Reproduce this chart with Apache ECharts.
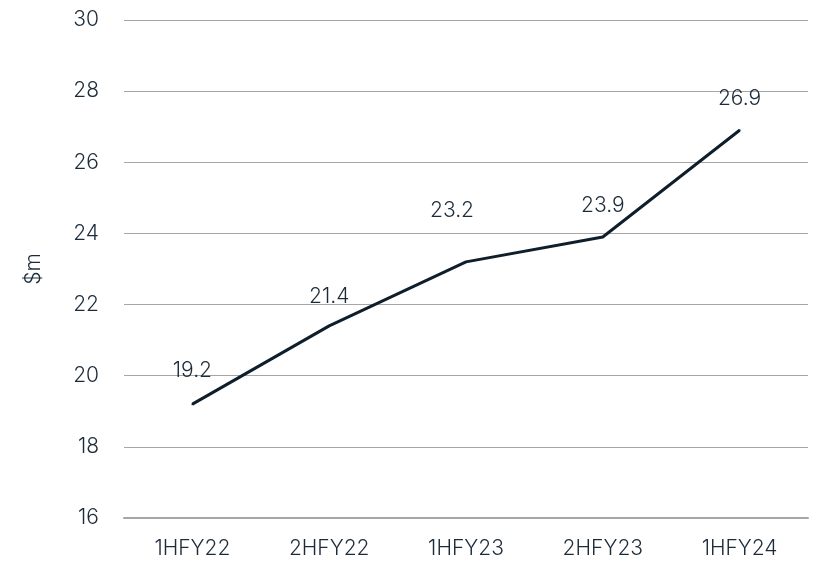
<!DOCTYPE html>
<html>
<head>
<meta charset="utf-8">
<script src="https://cdn.jsdelivr.net/npm/echarts@6/dist/echarts.min.js"></script>
<style>
  html, body { margin: 0; padding: 0; background: #fff; }
  #chart { width: 814px; height: 561px; }
</style>
</head>
<body>
<div id="chart"></div>
<script>
// data
const periods = ['1HFY22', '2HFY22', '1HFY23', '2HFY23', '1HFY24']
const revenue = [19.2, 21.4, 23.2, 23.9, 26.9]

const textColor = '#1c2b3a'
const font = 'Inter'
const fs = 21

const chart = echarts.init(document.getElementById('chart'))

// label offsets picked to sit like the original
const labelOffsets = [[0, -2], [0, 2], [-14, -20], [0, 0], [0, 0]]

chart.setOption({
  animation: false,
  grid: { left: 124, right: 6, top: 20, bottom: 43 },
  xAxis: {
    type: 'category',
    data: periods,
    boundaryGap: true,
    axisLine: { show: true, lineStyle: { color: '#a6a6a6', width: 2 } },
    axisTick: { show: false },
    axisLabel: { color: textColor, fontFamily: font, fontWeight: 300, fontSize: fs, margin: 20 }
  },
  yAxis: {
    type: 'value',
    min: 16,
    max: 30,
    interval: 2,
    name: '$m',
    nameLocation: 'middle',
    nameGap: 80,
    nameTextStyle: { color: textColor, fontFamily: font, fontWeight: 300, fontSize: fs },
    axisLine: { show: false },
    axisTick: { show: false },
    axisLabel: { color: textColor, fontFamily: font, fontWeight: 300, fontSize: fs, margin: 25 },
    splitLine: { lineStyle: { color: '#a6a6a6', width: 1 } }
  },
  series: [
    {
      type: 'line',
      data: revenue.map((v, i) => ({
        value: v,
        label: { offset: labelOffsets[i] }
      })),
      symbol: 'circle',
      symbolSize: 2,
      showSymbol: true,
      itemStyle: { color: '#0f1e2b' },
      lineStyle: { color: '#0f1e2b', width: 3 },
      label: {
        show: true,
        position: 'top',
        distance: 20,
        color: textColor,
        fontFamily: font,
        fontWeight: 300,
        fontSize: fs
      }
    }
  ]
})
</script>
</body>
</html>
